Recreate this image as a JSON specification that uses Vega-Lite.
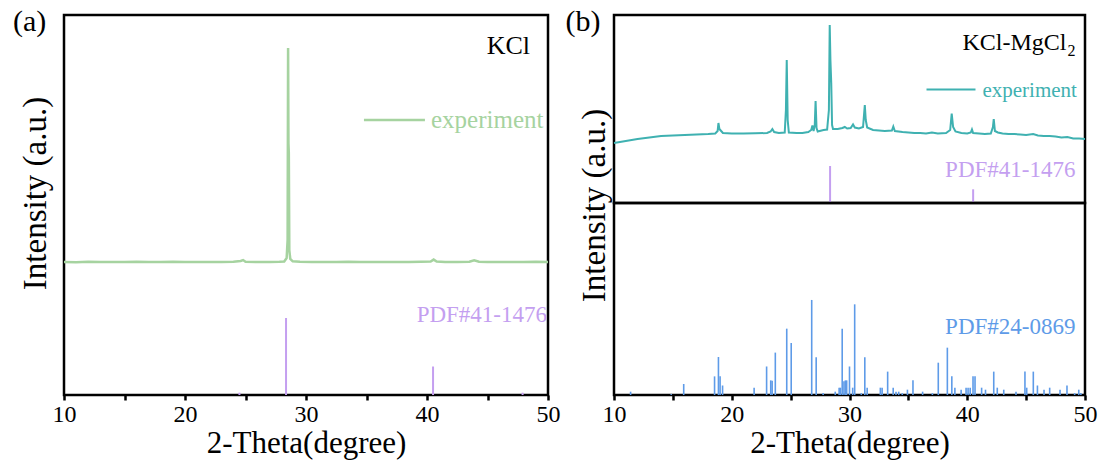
{
  "$schema": "https://vega.github.io/schema/vega-lite/v6.json",
  "autosize": {"type": "none"},
  "padding": {"left": 64, "top": 15, "right": 1040, "bottom": 453},
  "background": "white",
  "config": {
    "view": {"stroke": "black", "strokeWidth": 2.5},
    "font": "Liberation Serif",
    "axis": {"labelFont": "Liberation Serif", "titleFont": "Liberation Serif", "labelColor": "black", "titleColor": "black", "titleFontWeight": "normal", "grid": false, "domain": false, "tickColor": "black"},
    "text": {"font": "Liberation Serif"}
  },
  "datasets": {
    "expA": [
      {"theta": 10.0, "intensity": 150}, {"theta": 11.0, "intensity": 140}, {"theta": 12.0, "intensity": 160}, {"theta": 13.0, "intensity": 145},
      {"theta": 14.0, "intensity": 155}, {"theta": 15.0, "intensity": 150}, {"theta": 16.0, "intensity": 165}, {"theta": 17.0, "intensity": 145},
      {"theta": 18.0, "intensity": 150}, {"theta": 19.0, "intensity": 160}, {"theta": 20.0, "intensity": 150}, {"theta": 21.0, "intensity": 145},
      {"theta": 22.0, "intensity": 155}, {"theta": 23.0, "intensity": 150}, {"theta": 24.0, "intensity": 165}, {"theta": 24.6, "intensity": 200},
      {"theta": 24.8, "intensity": 240}, {"theta": 25.0, "intensity": 160}, {"theta": 26.0, "intensity": 150}, {"theta": 27.0, "intensity": 155},
      {"theta": 27.8, "intensity": 160}, {"theta": 28.2, "intensity": 170}, {"theta": 28.4, "intensity": 330}, {"theta": 28.48, "intensity": 1160},
      {"theta": 28.52, "intensity": 10000}, {"theta": 28.55, "intensity": 5600}, {"theta": 28.58, "intensity": 5170}, {"theta": 28.62, "intensity": 700},
      {"theta": 28.7, "intensity": 290}, {"theta": 28.9, "intensity": 180}, {"theta": 29.5, "intensity": 160}, {"theta": 30.5, "intensity": 150},
      {"theta": 31.5, "intensity": 155}, {"theta": 32.5, "intensity": 150}, {"theta": 33.5, "intensity": 160}, {"theta": 34.5, "intensity": 150},
      {"theta": 35.5, "intensity": 145}, {"theta": 36.5, "intensity": 155}, {"theta": 37.5, "intensity": 150}, {"theta": 38.5, "intensity": 150},
      {"theta": 39.5, "intensity": 160}, {"theta": 40.3, "intensity": 170}, {"theta": 40.55, "intensity": 260}, {"theta": 40.8, "intensity": 170},
      {"theta": 41.5, "intensity": 150}, {"theta": 42.5, "intensity": 155}, {"theta": 43.5, "intensity": 160}, {"theta": 43.9, "intensity": 230},
      {"theta": 44.3, "intensity": 160}, {"theta": 45.0, "intensity": 150}, {"theta": 46.0, "intensity": 145}, {"theta": 47.0, "intensity": 155},
      {"theta": 48.0, "intensity": 150}, {"theta": 49.0, "intensity": 160}, {"theta": 50.0, "intensity": 150}
    ],
    "expB": [
      {"theta": 10.0, "intensity": 150}, {"theta": 11.0, "intensity": 317}, {"theta": 12.0, "intensity": 484}, {"theta": 13.0, "intensity": 609},
      {"theta": 14.0, "intensity": 735}, {"theta": 15.0, "intensity": 776}, {"theta": 16.0, "intensity": 818}, {"theta": 17.0, "intensity": 860},
      {"theta": 18.0, "intensity": 902}, {"theta": 18.6, "intensity": 943}, {"theta": 18.8, "intensity": 1152}, {"theta": 18.87, "intensity": 1820},
      {"theta": 18.95, "intensity": 1319}, {"theta": 19.1, "intensity": 1152}, {"theta": 19.25, "intensity": 985}, {"theta": 20.0, "intensity": 943},
      {"theta": 21.0, "intensity": 943}, {"theta": 22.0, "intensity": 960}, {"theta": 23.0, "intensity": 985}, {"theta": 23.3, "intensity": 1110},
      {"theta": 23.45, "intensity": 1319}, {"theta": 23.6, "intensity": 1069}, {"theta": 24.0, "intensity": 985}, {"theta": 24.5, "intensity": 1027},
      {"theta": 24.6, "intensity": 2905}, {"theta": 24.67, "intensity": 7080}, {"theta": 24.75, "intensity": 2070}, {"theta": 24.85, "intensity": 1027},
      {"theta": 25.5, "intensity": 985}, {"theta": 26.0, "intensity": 985}, {"theta": 26.5, "intensity": 1069}, {"theta": 26.75, "intensity": 1236},
      {"theta": 26.85, "intensity": 1611}, {"theta": 26.95, "intensity": 1152}, {"theta": 27.05, "intensity": 1653}, {"theta": 27.12, "intensity": 3657},
      {"theta": 27.2, "intensity": 1403}, {"theta": 27.3, "intensity": 1110}, {"theta": 27.8, "intensity": 1236}, {"theta": 28.1, "intensity": 1277},
      {"theta": 28.25, "intensity": 2905}, {"theta": 28.32, "intensity": 10003}, {"theta": 28.38, "intensity": 7080}, {"theta": 28.45, "intensity": 5160},
      {"theta": 28.52, "intensity": 1653}, {"theta": 28.6, "intensity": 1319}, {"theta": 29.0, "intensity": 1319}, {"theta": 29.4, "intensity": 1403},
      {"theta": 29.6, "intensity": 1486}, {"theta": 29.8, "intensity": 1361}, {"theta": 30.1, "intensity": 1403}, {"theta": 30.3, "intensity": 1695},
      {"theta": 30.45, "intensity": 1444}, {"theta": 30.8, "intensity": 1361}, {"theta": 31.15, "intensity": 1486}, {"theta": 31.3, "intensity": 3323},
      {"theta": 31.38, "intensity": 2070}, {"theta": 31.5, "intensity": 1444}, {"theta": 32.0, "intensity": 1236}, {"theta": 32.5, "intensity": 1194},
      {"theta": 33.0, "intensity": 1152}, {"theta": 33.6, "intensity": 1194}, {"theta": 33.72, "intensity": 1528}, {"theta": 33.85, "intensity": 1152},
      {"theta": 34.5, "intensity": 1069}, {"theta": 35.0, "intensity": 1027}, {"theta": 35.5, "intensity": 985}, {"theta": 36.0, "intensity": 985},
      {"theta": 36.5, "intensity": 943}, {"theta": 37.0, "intensity": 1027}, {"theta": 37.5, "intensity": 943}, {"theta": 38.2, "intensity": 985},
      {"theta": 38.55, "intensity": 1236}, {"theta": 38.68, "intensity": 2613}, {"theta": 38.8, "intensity": 1486}, {"theta": 39.0, "intensity": 1110},
      {"theta": 39.5, "intensity": 985}, {"theta": 40.0, "intensity": 943}, {"theta": 40.3, "intensity": 1027}, {"theta": 40.4, "intensity": 1277},
      {"theta": 40.5, "intensity": 985}, {"theta": 41.0, "intensity": 943}, {"theta": 41.5, "intensity": 902}, {"theta": 42.0, "intensity": 943},
      {"theta": 42.18, "intensity": 1486}, {"theta": 42.25, "intensity": 2154}, {"theta": 42.35, "intensity": 1152}, {"theta": 42.6, "intensity": 1027},
      {"theta": 43.0, "intensity": 943}, {"theta": 43.5, "intensity": 902}, {"theta": 44.0, "intensity": 902}, {"theta": 44.5, "intensity": 860},
      {"theta": 45.0, "intensity": 818}, {"theta": 45.6, "intensity": 902}, {"theta": 46.0, "intensity": 776}, {"theta": 46.5, "intensity": 735},
      {"theta": 47.0, "intensity": 735}, {"theta": 47.5, "intensity": 693}, {"theta": 48.0, "intensity": 609}, {"theta": 48.5, "intensity": 651},
      {"theta": 49.0, "intensity": 526}, {"theta": 49.5, "intensity": 526}, {"theta": 50.0, "intensity": 484}
    ],
    "pdf41": [
      {"theta": 24.5, "intensity": 3}, {"theta": 28.35, "intensity": 100}, {"theta": 40.5, "intensity": 37}, {"theta": 47.9, "intensity": 3}
    ],
    "pdf24": [
      {"theta": 11.41, "intensity": 3.5}, {"theta": 14.86, "intensity": 1}, {"theta": 15.92, "intensity": 11.6}, {"theta": 18.54, "intensity": 19.6},
      {"theta": 18.87, "intensity": 40}, {"theta": 19.01, "intensity": 19.6}, {"theta": 19.22, "intensity": 10}, {"theta": 21.9, "intensity": 7.7},
      {"theta": 22.96, "intensity": 30}, {"theta": 23.31, "intensity": 15.4}, {"theta": 23.43, "intensity": 15}, {"theta": 23.7, "intensity": 44.6},
      {"theta": 24.67, "intensity": 69.8}, {"theta": 25.05, "intensity": 54.7}, {"theta": 26.79, "intensity": 100}, {"theta": 27.17, "intensity": 39.6},
      {"theta": 27.76, "intensity": 2}, {"theta": 28.79, "intensity": 3.5}, {"theta": 29.12, "intensity": 7.7}, {"theta": 29.23, "intensity": 7.7},
      {"theta": 29.38, "intensity": 69.8}, {"theta": 29.53, "intensity": 14.4}, {"theta": 29.65, "intensity": 15.4}, {"theta": 29.76, "intensity": 15.4},
      {"theta": 30.0, "intensity": 30}, {"theta": 30.27, "intensity": 7.7}, {"theta": 30.44, "intensity": 95.4}, {"theta": 31.0, "intensity": 2},
      {"theta": 31.3, "intensity": 39.6}, {"theta": 31.5, "intensity": 7.7}, {"theta": 32.62, "intensity": 7.7}, {"theta": 32.77, "intensity": 7.7},
      {"theta": 33.24, "intensity": 24.6}, {"theta": 33.71, "intensity": 7.7}, {"theta": 33.95, "intensity": 3.5}, {"theta": 34.18, "intensity": 3.5},
      {"theta": 34.48, "intensity": 2}, {"theta": 34.92, "intensity": 5.6}, {"theta": 35.39, "intensity": 15.4}, {"theta": 36.21, "intensity": 3.5},
      {"theta": 37.04, "intensity": 2}, {"theta": 37.54, "intensity": 34}, {"theta": 38.31, "intensity": 49.8}, {"theta": 38.69, "intensity": 19.6},
      {"theta": 38.95, "intensity": 7.7}, {"theta": 39.48, "intensity": 5.6}, {"theta": 39.9, "intensity": 7.7}, {"theta": 40.07, "intensity": 7.7},
      {"theta": 40.25, "intensity": 7.7}, {"theta": 40.49, "intensity": 19.6}, {"theta": 40.66, "intensity": 19.6}, {"theta": 41.22, "intensity": 7.7},
      {"theta": 41.55, "intensity": 5.6}, {"theta": 42.25, "intensity": 24.6}, {"theta": 42.55, "intensity": 7.7}, {"theta": 43.1, "intensity": 5.6},
      {"theta": 44.14, "intensity": 3.5}, {"theta": 44.9, "intensity": 24.6}, {"theta": 45.05, "intensity": 7.7}, {"theta": 45.61, "intensity": 24.6},
      {"theta": 45.96, "intensity": 10}, {"theta": 46.52, "intensity": 5.6}, {"theta": 47.0, "intensity": 7.7}, {"theta": 47.88, "intensity": 5.6},
      {"theta": 48.47, "intensity": 10}, {"theta": 49.12, "intensity": 2}, {"theta": 49.47, "intensity": 5.6}, {"theta": 49.65, "intensity": 2}
    ]
  },
  "bounds": "flush",
  "spacing": 66,
  "hconcat": [
    {
      "width": 484,
      "height": 380,
      "resolve": {"scale": {"y": "independent"}},
      "layer": [
        {
          "data": {"name": "expA"},
          "mark": {"type": "line", "color": "#a6d3a0", "strokeWidth": 2.5},
          "encoding": {
            "x": {"field": "theta", "type": "quantitative", "scale": {"domain": [10, 50], "padding": 0},
              "axis": {"title": "2-Theta(degree)", "values": [10, 15, 20, 25, 30, 35, 40, 45, 50], "labelExpr": "datum.value % 10 === 0 ? datum.label : ''", "tickSize": 5, "tickWidth": 2.5, "labelFont": "Liberation Serif", "titleFont": "Liberation Serif", "labelFontSize": 24, "titleFontSize": 31, "labelPadding": 2, "titlePadding": 2, "labelFlush": false}},
            "y": {"field": "intensity", "type": "quantitative", "scale": {"domain": [-5972, 11519]},
              "axis": {"title": "Intensity (a.u.)", "labels": false, "ticks": false, "titleFont": "Liberation Serif", "titleFontSize": 33, "titlePadding": 12, "titleY": 178}}
          }
        },
        {
          "data": {"values": [{"theta": 48.51, "intensity": 9724, "label": "KCl"}]},
          "mark": {"type": "text", "align": "right", "baseline": "alphabetic", "font": "Liberation Serif", "fontSize": 26, "color": "black"},
          "encoding": {"x": {"field": "theta", "type": "quantitative", "scale": {"domain": [10, 50], "padding": 0}}, "y": {"field": "intensity", "type": "quantitative", "scale": {"domain": [-5972, 11519]}, "axis": null}, "text": {"field": "label"}}
        },
        {
          "data": {"values": [{"theta": 34.79, "intensity": 6686}, {"theta": 39.83, "intensity": 6686}]},
          "mark": {"type": "line", "color": "#a6d3a0", "strokeWidth": 2.5},
          "encoding": {"x": {"field": "theta", "type": "quantitative", "scale": {"domain": [10, 50], "padding": 0}}, "y": {"field": "intensity", "type": "quantitative", "scale": {"domain": [-5972, 11519]}, "axis": null}}
        },
        {
          "data": {"values": [{"theta": 40.33, "intensity": 6318, "label": "experiment"}]},
          "mark": {"type": "text", "align": "left", "baseline": "alphabetic", "font": "Liberation Serif", "fontSize": 25, "color": "#a6d3a0"},
          "encoding": {"x": {"field": "theta", "type": "quantitative", "scale": {"domain": [10, 50], "padding": 0}}, "y": {"field": "intensity", "type": "quantitative", "scale": {"domain": [-5972, 11519]}, "axis": null}, "text": {"field": "label"}}
        },
        {
          "data": {"values": [{"theta": 5.79, "intensity": 10783, "label": "(a)"}]},
          "mark": {"type": "text", "align": "left", "baseline": "alphabetic", "font": "Liberation Serif", "fontSize": 30, "color": "black"},
          "encoding": {"x": {"field": "theta", "type": "quantitative", "scale": {"domain": [10, 50], "padding": 0}}, "y": {"field": "intensity", "type": "quantitative", "scale": {"domain": [-5972, 11519]}, "axis": null}, "text": {"field": "label"}}
        },
        {
          "data": {"name": "pdf41"},
          "mark": {"type": "bar", "color": "#c49ff0", "size": 2, "orient": "vertical"},
          "encoding": {
            "x": {"field": "theta", "type": "quantitative", "scale": {"domain": [10, 50], "padding": 0}},
            "y": {"field": "intensity", "type": "quantitative", "scale": {"domain": [0, 493.5]}, "axis": null}
          }
        },
        {
          "data": {"values": [{"theta": 49.92, "intensity": 94.8, "label": "PDF#41-1476"}]},
          "mark": {"type": "text", "align": "right", "baseline": "alphabetic", "font": "Liberation Serif", "fontSize": 23, "color": "#c49ff0"},
          "encoding": {"x": {"field": "theta", "type": "quantitative", "scale": {"domain": [10, 50], "padding": 0}}, "y": {"field": "intensity", "type": "quantitative", "scale": {"domain": [0, 493.5]}, "axis": null}, "text": {"field": "label"}}
        }
      ]
    },
    {
      "bounds": "flush",
      "spacing": 0,
      "vconcat": [
        {
          "width": 471,
          "height": 188,
          "resolve": {"scale": {"y": "independent"}},
          "layer": [
            {
              "data": {"name": "expB"},
              "mark": {"type": "line", "color": "#3fb1b1", "strokeWidth": 2},
              "encoding": {
                "x": {"field": "theta", "type": "quantitative", "scale": {"domain": [10, 50], "padding": 0}, "axis": null},
                "y": {"field": "intensity", "type": "quantitative", "scale": {"domain": [-4860, 10838]},
                  "axis": {"title": "Intensity (a.u.)", "labels": false, "ticks": false, "titleFont": "Liberation Serif", "titleFontSize": 33, "titlePadding": 3, "titleY": 190}}
              }
            },
            {
              "data": {"values": [{"theta": 48.43, "intensity": 7916, "label": "KCl-MgCl"}]},
              "mark": {"type": "text", "align": "right", "baseline": "alphabetic", "font": "Liberation Serif", "fontSize": 24, "color": "black"},
              "encoding": {"x": {"field": "theta", "type": "quantitative", "scale": {"domain": [10, 50], "padding": 0}}, "y": {"field": "intensity", "type": "quantitative", "scale": {"domain": [-4860, 10838]}, "axis": null}, "text": {"field": "label"}}
            },
            {
              "data": {"values": [{"theta": 48.51, "intensity": 7415, "label": "2"}]},
              "mark": {"type": "text", "align": "left", "baseline": "alphabetic", "font": "Liberation Serif", "fontSize": 16, "color": "black"},
              "encoding": {"x": {"field": "theta", "type": "quantitative", "scale": {"domain": [10, 50], "padding": 0}}, "y": {"field": "intensity", "type": "quantitative", "scale": {"domain": [-4860, 10838]}, "axis": null}, "text": {"field": "label"}}
            },
            {
              "data": {"values": [{"theta": 36.54, "intensity": 4617}, {"theta": 40.7, "intensity": 4617}]},
              "mark": {"type": "line", "color": "#3fb1b1", "strokeWidth": 2},
              "encoding": {"x": {"field": "theta", "type": "quantitative", "scale": {"domain": [10, 50], "padding": 0}}, "y": {"field": "intensity", "type": "quantitative", "scale": {"domain": [-4860, 10838]}, "axis": null}}
            },
            {
              "data": {"values": [{"theta": 41.29, "intensity": 3991, "label": "experiment"}]},
              "mark": {"type": "text", "align": "left", "baseline": "alphabetic", "font": "Liberation Serif", "fontSize": 21, "color": "#3fb1b1"},
              "encoding": {"x": {"field": "theta", "type": "quantitative", "scale": {"domain": [10, 50], "padding": 0}}, "y": {"field": "intensity", "type": "quantitative", "scale": {"domain": [-4860, 10838]}, "axis": null}, "text": {"field": "label"}}
            },
            {
              "data": {"values": [{"theta": 5.88, "intensity": 9502, "label": "(b)"}]},
              "mark": {"type": "text", "align": "left", "baseline": "alphabetic", "font": "Liberation Serif", "fontSize": 30, "color": "black"},
              "encoding": {"x": {"field": "theta", "type": "quantitative", "scale": {"domain": [10, 50], "padding": 0}}, "y": {"field": "intensity", "type": "quantitative", "scale": {"domain": [-4860, 10838]}, "axis": null}, "text": {"field": "label"}}
            },
            {
              "data": {"name": "pdf41"},
              "mark": {"type": "bar", "color": "#c49ff0", "size": 2, "orient": "vertical"},
              "encoding": {
                "x": {"field": "theta", "type": "quantitative", "scale": {"domain": [10, 50], "padding": 0}},
                "y": {"field": "intensity", "type": "quantitative", "scale": {"domain": [0, 508]}, "axis": null}
              }
            },
            {
              "data": {"values": [{"theta": 49.19, "intensity": 70.3, "label": "PDF#41-1476"}]},
              "mark": {"type": "text", "align": "right", "baseline": "alphabetic", "font": "Liberation Serif", "fontSize": 23, "color": "#c49ff0"},
              "encoding": {"x": {"field": "theta", "type": "quantitative", "scale": {"domain": [10, 50], "padding": 0}}, "y": {"field": "intensity", "type": "quantitative", "scale": {"domain": [0, 508]}, "axis": null}, "text": {"field": "label"}}
            }
          ]
        },
        {
          "width": 471,
          "height": 192,
          "layer": [
            {
              "data": {"name": "pdf24"},
              "mark": {"type": "bar", "color": "#5e9be8", "size": 1.6, "orient": "vertical"},
              "encoding": {
                "x": {"field": "theta", "type": "quantitative", "scale": {"domain": [10, 50], "padding": 0},
                  "axis": {"title": "2-Theta(degree)", "values": [10, 15, 20, 25, 30, 35, 40, 45, 50], "labelExpr": "datum.value % 10 === 0 ? datum.label : ''", "tickSize": 5, "tickWidth": 2.5, "labelFont": "Liberation Serif", "titleFont": "Liberation Serif", "labelFontSize": 24, "titleFontSize": 31, "labelPadding": 2, "titlePadding": 2, "labelFlush": false}},
                "y": {"field": "intensity", "type": "quantitative", "scale": {"domain": [0, 202]}, "axis": null}
              }
            },
            {
              "data": {"values": [{"theta": 49.19, "intensity": 64.2, "label": "PDF#24-0869"}]},
              "mark": {"type": "text", "align": "right", "baseline": "alphabetic", "font": "Liberation Serif", "fontSize": 23, "color": "#5e9be8"},
              "encoding": {"x": {"field": "theta", "type": "quantitative", "scale": {"domain": [10, 50], "padding": 0}}, "y": {"field": "intensity", "type": "quantitative", "scale": {"domain": [0, 202]}}, "text": {"field": "label"}}
            }
          ]
        }
      ]
    }
  ]
}
